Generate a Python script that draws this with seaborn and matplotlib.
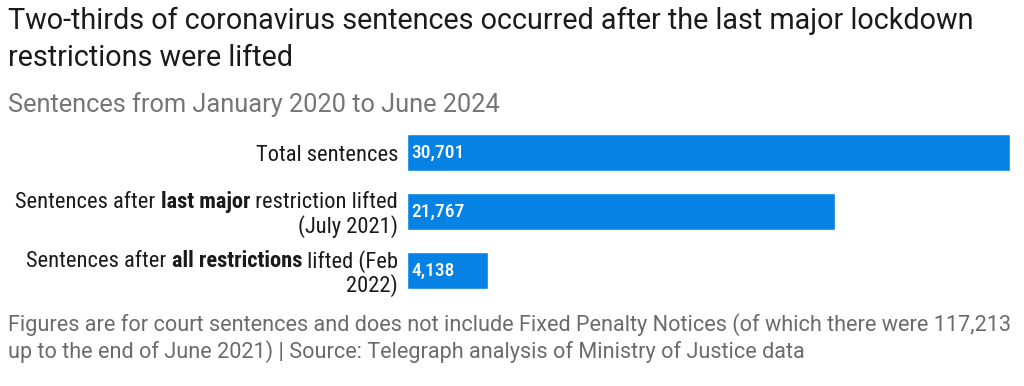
import matplotlib
matplotlib.use("Agg")
import matplotlib.pyplot as plt
from matplotlib import font_manager as fm
import seaborn as sns
import pandas as pd

# data
categories = ["Total sentences", "After last major restriction", "After all restrictions"]
sentences = [30701, 21767, 4138]
value_labels = ["30,701", "21,767", "4,138"]

# label lines, each a list of (text, bold) pieces
label_lines = [
    [[("Total sentences", False)]],
    [[("Sentences after ", False), ("last major", True), (" restriction lifted", False)],
     [("(July 2021)", False)]],
    [[("Sentences after ", False), ("all restrictions", True), (" lifted (Feb", False)],
     [("2022)", False)]],
]

title = "Two-thirds of coronavirus sentences occurred after the last major lockdown\nrestrictions were lifted"
subtitle = "Sentences from January 2020 to June 2024"
footer = ("Figures are for court sentences and does not include Fixed Penalty Notices (of which there were 117,213\n"
          "up to the end of June 2021) | Source: Telegraph analysis of Ministry of Justice data")

sns.set_theme(style="white")
plt.rcParams["font.family"] = ["Roboto", "DejaVu Sans"]

# look for a narrow face for the bar labels
fonts = fm.fontManager.ttflist
names = {f.name for f in fonts}
narrow = None
stretch = "normal"
for cand in ["Roboto Condensed", "DejaVu Sans Condensed", "Liberation Sans Narrow",
             "Open Sans Condensed"]:
    if cand in names:
        narrow = cand
        break
if narrow is None:
    cond = [f for f in fonts if str(f.stretch) in ("condensed", "semi-condensed", "extra-condensed")]
    if cond:
        narrow = cond[0].name
        stretch = cond[0].stretch
if narrow is None:
    narrow = "DejaVu Sans"
label_size = 16.2 if narrow != "DejaVu Sans" else 12.4
value_size = 14 if narrow != "DejaVu Sans" else 12

df = pd.DataFrame({"category": categories, "sentences": sentences})

fig = plt.figure(figsize=(10.24, 3.86), dpi=100)
ax = fig.add_axes([0.3975, 0.222, 0.5889, 0.4585])
sns.barplot(data=df, x="sentences", y="category", color="#0582E4",
            width=0.63, saturation=1, ax=ax)
ax.set_xlim(0, max(sentences))
ax.set_ylim(2.5, -0.5)
ax.set_xticks([])
ax.set_yticks([])
ax.set_xlabel("")
ax.set_ylabel("")
sns.despine(ax=ax, left=True, bottom=True)

for i, lab in enumerate(value_labels):
    ax.text(200, i, lab, color="white", fontsize=value_size, fontweight="medium",
            family=narrow, fontstretch=stretch, va="center", ha="left")

fig.text(0.008, 0.982, title, fontsize=20.7, color="#1a1a1a", va="top", ha="left",
         linespacing=1.42)
fig.text(0.008, 0.73, subtitle, fontsize=18.3, color="#757575", va="center", ha="left")
fig.text(0.008, 0.125, footer, fontsize=15.6, color="#6b6b6b", va="center", ha="left",
         linespacing=1.25)

# category labels, right aligned at the left edge of the bars, built piece by piece
fig.canvas.draw()
renderer = fig.canvas.get_renderer()
x_right = ax.transAxes.transform((0, 0))[0] - 9
line_gap = 24.5
for i, lines in enumerate(label_lines):
    cy = ax.transData.transform((0, i))[1]
    n = len(lines)
    for k, pieces in enumerate(lines):
        y = cy + ((n - 1) / 2 - k) * line_gap
        x = x_right
        for txt, bold in reversed(pieces):
            t = fig.text(x, y, txt, transform=None, fontsize=label_size, color="#1a1a1a",
                         family=narrow, fontstretch=stretch,
                         fontweight="bold" if bold else "normal",
                         ha="right", va="center_baseline")
            x -= t.get_window_extent(renderer).width

fig.savefig("out.png", dpi=100)
